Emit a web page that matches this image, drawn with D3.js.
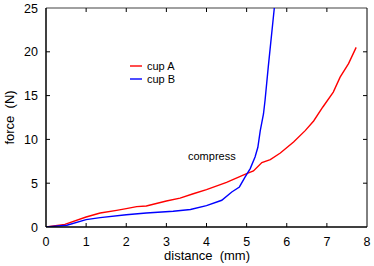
<!DOCTYPE html>
<html>
<head>
<meta charset="utf-8">
<script src="https://cdn.jsdelivr.net/npm/d3@7"></script>
<style>
  body { margin: 0; background: #fff; }
  svg { display: block; font-family: "Liberation Sans", Arial, sans-serif; }
</style>
</head>
<body>
<div id="chart"></div>
<script>
const cupADistance = [0, 0.47, 1.0, 1.35, 1.76, 2.0, 2.26, 2.5, 3.0, 3.34, 3.67, 4.0, 4.5, 5.0, 5.17, 5.38, 5.59, 5.84, 6.17, 6.46, 6.67, 6.9, 7.16, 7.33, 7.54, 7.73];
const cupAForce = [0, 0.3, 1.14, 1.6, 1.9, 2.1, 2.33, 2.4, 2.97, 3.3, 3.8, 4.27, 5.1, 6.1, 6.4, 7.35, 7.7, 8.45, 9.7, 11.0, 12.1, 13.7, 15.4, 17.1, 18.65, 20.5];
const cupBDistance = [0, 0.52, 1.0, 1.35, 2.0, 2.5, 3.17, 3.6, 4.0, 4.38, 4.63, 4.82, 4.96, 5.09, 5.21, 5.28, 5.34, 5.42, 5.46, 5.54, 5.69];
const cupBForce = [0, 0.2, 0.84, 1.07, 1.4, 1.6, 1.8, 2.0, 2.44, 3.05, 4.0, 4.57, 5.7, 6.67, 8.0, 9.1, 11.0, 12.9, 14.5, 18.3, 25];
const xTicks = [0, 1, 2, 3, 4, 5, 6, 7, 8];
const yTicks = [0, 5, 10, 15, 20, 25];

const WIDTH = 374;
const HEIGHT = 266;
const margin = { top: 8, right: 7, bottom: 39, left: 46 };
const TICK_LEN = 4;

const series = [
  { name: 'cup A', color: '#ff0000', xs: cupADistance, ys: cupAForce },
  { name: 'cup B', color: '#0000ff', xs: cupBDistance, ys: cupBForce },
];

const svg = d3.select('#chart').append('svg').attr('width', WIDTH).attr('height', HEIGHT);

const x = d3.scaleLinear().domain([0, 8]).range([margin.left, WIDTH - margin.right]);
const y = d3.scaleLinear().domain([0, 25]).range([HEIGHT - margin.bottom, margin.top]);

svg.append('clipPath').attr('id', 'plot-clip')
  .append('rect')
  .attr('x', margin.left).attr('y', margin.top)
  .attr('width', WIDTH - margin.left - margin.right)
  .attr('height', HEIGHT - margin.top - margin.bottom);

// frame: top grey, right thin black
svg.append('line')
  .attr('x1', x(0)).attr('x2', x(8)).attr('y1', y(25)).attr('y2', y(25))
  .attr('stroke', '#808080').attr('stroke-width', 1.5);
svg.append('line')
  .attr('x1', x(8)).attr('x2', x(8)).attr('y1', y(25)).attr('y2', y(0))
  .attr('stroke', '#000').attr('stroke-width', 1);

const line = d3.line().x((d) => x(d[0])).y((d) => y(d[1]));

series.forEach((s) => {
  svg.append('path')
    .datum(s.xs.map((v, i) => [v, s.ys[i]]))
    .attr('clip-path', 'url(#plot-clip)')
    .attr('fill', 'none')
    .attr('stroke', s.color)
    .attr('stroke-width', 1.4)
    .attr('d', line);
});

// inward ticks on all four sides
const innerX = xTicks.slice(1, -1);
const innerY = yTicks.slice(1, -1);
innerX.forEach((t) => {
  svg.append('line').attr('x1', x(t)).attr('x2', x(t)).attr('y1', y(0)).attr('y2', y(0) - TICK_LEN).attr('stroke', '#000');
  svg.append('line').attr('x1', x(t)).attr('x2', x(t)).attr('y1', y(25)).attr('y2', y(25) + TICK_LEN).attr('stroke', '#000');
});
innerY.forEach((t) => {
  svg.append('line').attr('x1', x(0)).attr('x2', x(0) + TICK_LEN).attr('y1', y(t)).attr('y2', y(t)).attr('stroke', '#000');
  svg.append('line').attr('x1', x(8)).attr('x2', x(8) - TICK_LEN).attr('y1', y(t)).attr('y2', y(t)).attr('stroke', '#000');
});

// left and bottom axes
svg.append('line')
  .attr('x1', x(0)).attr('x2', x(0)).attr('y1', y(25)).attr('y2', y(0))
  .attr('stroke', '#000').attr('stroke-width', 1.5);
svg.append('line')
  .attr('x1', x(0)).attr('x2', x(8)).attr('y1', y(0)).attr('y2', y(0))
  .attr('stroke', '#000').attr('stroke-width', 1.5);

xTicks.forEach((t) => {
  svg.append('text')
    .attr('x', x(t)).attr('y', y(0) + 18.5)
    .attr('text-anchor', 'middle')
    .attr('font-size', '12.5px')
    .text(t);
});
yTicks.forEach((t) => {
  svg.append('text')
    .attr('x', x(0) - 8).attr('y', y(t) + 4.5)
    .attr('text-anchor', 'end')
    .attr('font-size', '12.5px')
    .text(t);
});

svg.append('text')
  .attr('x', 207).attr('y', 260)
  .attr('text-anchor', 'middle')
  .attr('font-size', '13px')
  .attr('xml:space', 'preserve')
  .text('distance  (mm)');

svg.append('text')
  .attr('transform', `translate(14, ${(y(0) + y(25)) / 2}) rotate(-90)`)
  .attr('text-anchor', 'middle')
  .attr('font-size', '13px')
  .attr('xml:space', 'preserve')
  .text('force  (N)');

// legend
series.forEach((s, i) => {
  const ly = 66 + i * 13;
  svg.append('line')
    .attr('x1', 130).attr('x2', 142).attr('y1', ly).attr('y2', ly)
    .attr('stroke', s.color).attr('stroke-width', 1.4);
  svg.append('text')
    .attr('x', 147).attr('y', ly + 4)
    .attr('font-size', '11px')
    .text(s.name);
});

svg.append('text')
  .attr('x', 188).attr('y', 160)
  .attr('font-size', '11px')
  .text('compress');
</script>
</body>
</html>
